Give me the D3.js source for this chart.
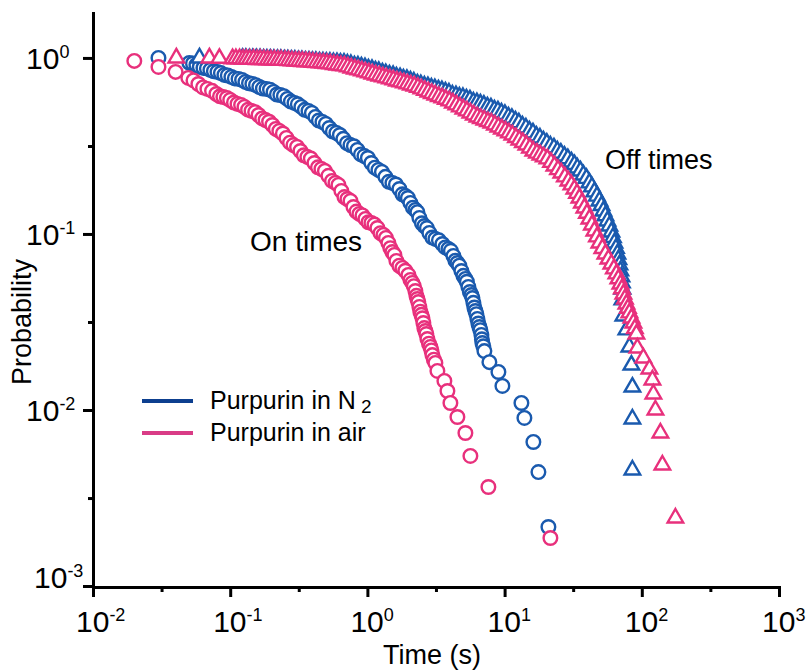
<!DOCTYPE html>
<html>
<head>
<meta charset="utf-8">
<script src="https://cdn.jsdelivr.net/npm/d3@7"></script>
<style>
  body { margin: 0; background: #fff; }
  text { font-family: Arial, "Liberation Sans", sans-serif; fill: #000; }
</style>
</head>
<body>
<div id="chart"></div>
<script>
// survival probabilities, [time (s), probability]
const onN2 = [
  [0.030, 1.0], [0.0504, 0.937], [0.0567, 0.912], [0.0638, 0.877], [0.0717, 0.855], [0.0807, 0.833],
  [0.0907, 0.801], [0.102, 0.780], [0.115, 0.760], [0.129, 0.731], [0.145, 0.712], [0.163, 0.684],
  [0.184, 0.667], [0.207, 0.641], [0.232, 0.616], [0.261, 0.585], [0.294, 0.555], [0.330, 0.527],
  [0.372, 0.500], [0.418, 0.462], [0.470, 0.433], [0.528, 0.400], [0.594, 0.375], [0.668, 0.347],
  [0.752, 0.320], [0.846, 0.300], [0.951, 0.277], [1.069, 0.253], [1.203, 0.231], [1.353, 0.211],
  [1.521, 0.195], [1.711, 0.180], [1.892, 0.1644], [2.058, 0.150], [2.238, 0.137], [2.393, 0.1233],
  [2.603, 0.111], [2.830, 0.1013], [3.130, 0.0937], [3.520, 0.0877], [3.894, 0.0822], [4.236, 0.0750],
  [4.529, 0.0684], [4.843, 0.0616], [5.179, 0.0555], [5.446, 0.0500], [5.728, 0.0450], [5.924, 0.0406],
  [6.126, 0.0365], [6.335, 0.0329], [6.551, 0.0296], [6.775, 0.0267], [6.889, 0.0240], [7.125, 0.0216],
  [7.747, 0.0187], [9.013, 0.01644], [9.638, 0.01369], [13.26, 0.01096], [13.94, 0.00901],
  [16.21, 0.00658], [17.64, 0.00444], [20.86, 0.002164]
];
const onN2Mid = [
  [0.0535, 0.93], [0.060, 0.89], [0.0676, 0.872], [0.076, 0.84], [0.0855, 0.82], [0.096, 0.795],
  [0.108, 0.765], [0.122, 0.75], [0.137, 0.718], [0.154, 0.70], [0.173, 0.67], [0.195, 0.66],
  [0.219, 0.62], [0.246, 0.606], [0.277, 0.565], [0.311, 0.545], [0.350, 0.507], [0.394, 0.487],
  [0.443, 0.441], [0.498, 0.422], [0.560, 0.382], [0.630, 0.365], [0.709, 0.328], [0.797, 0.315],
  [0.897, 0.283], [1.008, 0.270], [1.134, 0.238], [1.276, 0.225], [1.435, 0.198], [1.613, 0.191],
  [1.80, 0.168], [1.973, 0.160], [2.146, 0.141], [2.314, 0.133], [2.496, 0.115], [2.714, 0.108],
  [2.976, 0.0955], [3.32, 0.092], [3.70, 0.0838], [4.06, 0.0802], [4.38, 0.0705], [4.68, 0.0660],
  [5.01, 0.0578], [5.31, 0.0535], [5.58, 0.0468], [5.83, 0.0432], [6.02, 0.0382], [6.23, 0.0350],
  [6.44, 0.0310], [6.66, 0.0284], [6.83, 0.0252], [7.0, 0.0230]
];
const onAir = [
  [0.020, 0.962], [0.030, 0.889], [0.040, 0.833], [0.0495, 0.770], [0.0586, 0.711], [0.0682, 0.667],
  [0.0793, 0.624], [0.0892, 0.600], [0.100, 0.577], [0.113, 0.548], [0.127, 0.527], [0.143, 0.500],
  [0.161, 0.474], [0.181, 0.444], [0.203, 0.416], [0.228, 0.385], [0.257, 0.351], [0.289, 0.320],
  [0.325, 0.296], [0.365, 0.274], [0.411, 0.253], [0.462, 0.234], [0.520, 0.214], [0.585, 0.195],
  [0.646, 0.1755], [0.715, 0.158], [0.791, 0.1423], [0.874, 0.1299], [0.967, 0.1217], [1.069, 0.1155],
  [1.183, 0.1081], [1.308, 0.0987], [1.422, 0.0889], [1.521, 0.0790], [1.627, 0.0703], [1.799, 0.0641],
  [1.990, 0.0585], [2.128, 0.0527], [2.238, 0.0474], [2.314, 0.0427], [2.393, 0.0385], [2.475, 0.0347],
  [2.559, 0.0312], [2.647, 0.0281], [2.737, 0.0253], [2.878, 0.0228], [2.977, 0.0205], [3.130, 0.0185],
  [3.237, 0.01666], [3.640, 0.01462], [3.830, 0.01282], [4.027, 0.01096], [4.529, 0.00912],
  [5.179, 0.0074], [5.632, 0.00548], [7.618, 0.00365], [21.57, 0.001874]
];
const onAirMid = [
  [0.054, 0.745], [0.0634, 0.68], [0.0737, 0.650], [0.0842, 0.605], [0.0946, 0.592], [0.1065, 0.558],
  [0.120, 0.541], [0.135, 0.508], [0.152, 0.492], [0.171, 0.453], [0.192, 0.434], [0.215, 0.395],
  [0.242, 0.372], [0.273, 0.330], [0.307, 0.312], [0.344, 0.280], [0.387, 0.268], [0.436, 0.239],
  [0.490, 0.228], [0.552, 0.200], [0.615, 0.190], [0.680, 0.162], [0.753, 0.154], [0.832, 0.1340],
  [0.920, 0.1275], [1.018, 0.1165], [1.126, 0.1130], [1.245, 0.1010], [1.365, 0.0950], [1.47, 0.0830],
  [1.574, 0.0760], [1.71, 0.0660], [1.89, 0.0618], [2.06, 0.0548], [2.18, 0.0505], [2.276, 0.0445],
  [2.35, 0.0410], [2.43, 0.0362], [2.52, 0.0332], [2.60, 0.0292], [2.69, 0.0270], [2.81, 0.0238],
  [2.93, 0.0218], [3.05, 0.0193]
];
const offN2 = [
  [0.0597, 1.0], [0.123, 0.995], [0.138, 0.99], [0.155, 0.99], [0.175, 0.985], [0.196, 0.985],
  [0.221, 0.98], [0.248, 0.975], [0.279, 0.97], [0.314, 0.965], [0.353, 0.96], [0.397, 0.955],
  [0.447, 0.95], [0.502, 0.945], [0.565, 0.94], [0.636, 0.935], [0.715, 0.924], [0.804, 0.901],
  [0.904, 0.889], [1.017, 0.866], [1.144, 0.844], [1.286, 0.822], [1.447, 0.801], [1.627, 0.780],
  [1.829, 0.760], [2.058, 0.740], [2.314, 0.712], [2.603, 0.693], [2.928, 0.675], [3.293, 0.658],
  [3.703, 0.641], [4.165, 0.616], [4.684, 0.600], [5.268, 0.585], [5.924, 0.562], [6.662, 0.548],
  [7.492, 0.527], [8.427, 0.507], [9.478, 0.487], [10.66, 0.462], [11.99, 0.439], [13.48, 0.411],
  [15.16, 0.385], [17.05, 0.360], [19.18, 0.3376], [21.57, 0.316], [24.26, 0.296], [27.29, 0.277],
  [30.69, 0.2565], [33.93, 0.237], [37.53, 0.2164], [41.50, 0.195], [45.13, 0.1733], [49.09, 0.154],
  [52.49, 0.1351], [56.15, 0.1185], [60.02, 0.1026], [63.14, 0.0889], [66.41, 0.0770], [68.67, 0.0667],
  [71.02, 0.0570], [72.22, 0.0487], [72.22, 0.0422], [73.44, 0.0342], [77.23, 0.0285], [81.21, 0.0228],
  [84.0, 0.0180], [85.42, 0.0135], [85.42, 0.00889], [85.42, 0.00456]
];
const offN2Mid = [
  [0.130, 0.995], [0.146, 0.99], [0.165, 0.99], [0.185, 0.985], [0.208, 0.98], [0.234, 0.98],
  [0.263, 0.975], [0.296, 0.97], [0.333, 0.965], [0.375, 0.96], [0.421, 0.955], [0.474, 0.95],
  [0.533, 0.945], [0.600, 0.94], [0.675, 0.935], [0.758, 0.918], [0.853, 0.90], [0.96, 0.88],
  [1.08, 0.86], [1.21, 0.838], [1.36, 0.815], [1.54, 0.795], [1.73, 0.774], [1.94, 0.755],
  [2.18, 0.730], [2.45, 0.705], [2.76, 0.688], [3.10, 0.670], [3.49, 0.652], [3.93, 0.632],
  [4.42, 0.611], [4.97, 0.596], [5.59, 0.578], [6.28, 0.558], [7.06, 0.540], [7.95, 0.520],
  [8.94, 0.500], [10.05, 0.478], [11.3, 0.454], [12.7, 0.428], [14.3, 0.400], [16.1, 0.375],
  [18.1, 0.351], [20.3, 0.328], [22.9, 0.308], [25.7, 0.288], [28.9, 0.268], [32.3, 0.248],
  [35.7, 0.228], [39.5, 0.207], [43.3, 0.185], [47.1, 0.164], [50.8, 0.145], [54.3, 0.127],
  [58.0, 0.111], [61.6, 0.0955], [64.8, 0.0828], [67.5, 0.0715], [69.8, 0.0617], [71.6, 0.0528]
];
const offAir = [
  [0.0405, 1.0], [0.0705, 1.0], [0.0834, 0.995], [0.104, 0.99], [0.117, 0.99], [0.131, 0.985],
  [0.148, 0.985], [0.166, 0.98], [0.187, 0.975], [0.210, 0.975], [0.236, 0.97], [0.266, 0.965],
  [0.299, 0.96], [0.336, 0.955], [0.378, 0.95], [0.425, 0.94], [0.478, 0.935], [0.537, 0.925],
  [0.604, 0.912], [0.680, 0.901], [0.764, 0.877], [0.860, 0.855], [0.967, 0.833], [1.087, 0.811],
  [1.223, 0.790], [1.375, 0.770], [1.547, 0.750], [1.740, 0.731], [1.957, 0.712], [2.201, 0.693],
  [2.475, 0.667], [2.784, 0.641], [3.130, 0.616], [3.520, 0.593], [3.960, 0.570], [4.454, 0.541],
  [5.009, 0.513], [5.632, 0.487], [6.335, 0.462], [7.125, 0.444], [8.013, 0.427], [9.013, 0.4055],
  [10.14, 0.385], [11.40, 0.365], [12.82, 0.342], [14.42, 0.320], [16.21, 0.296], [18.24, 0.281],
  [20.51, 0.267], [23.07, 0.2434], [25.94, 0.222], [29.18, 0.200], [32.27, 0.180], [35.10, 0.160],
  [38.16, 0.1405], [41.50, 0.1217], [45.13, 0.104], [49.09, 0.0889], [54.29, 0.0770], [60.02, 0.0675],
  [65.30, 0.0593], [69.84, 0.0520], [73.44, 0.0456], [77.23, 0.0400], [81.21, 0.0356], [86.87, 0.0312],
  [91.33, 0.0270], [92.87, 0.0225], [102.7, 0.01974], [113.6, 0.0171], [119.5, 0.01481], [121.5, 0.01233],
  [125.7, 0.0100], [136.7, 0.0074], [141.3, 0.00487], [175.8, 0.002434]
];
const offAirMid = [
  [0.110, 0.99], [0.124, 0.985], [0.139, 0.985], [0.157, 0.98], [0.176, 0.978], [0.198, 0.975],
  [0.223, 0.972], [0.251, 0.968], [0.282, 0.962], [0.317, 0.958], [0.356, 0.952], [0.401, 0.945],
  [0.451, 0.938], [0.507, 0.93], [0.570, 0.918], [0.641, 0.906], [0.721, 0.889], [0.811, 0.866],
  [0.912, 0.844], [1.025, 0.822], [1.153, 0.80], [1.297, 0.78], [1.459, 0.76], [1.64, 0.74],
  [1.845, 0.722], [2.075, 0.702], [2.334, 0.68], [2.625, 0.654], [2.95, 0.628], [3.32, 0.604],
  [3.73, 0.582], [4.2, 0.555], [4.72, 0.527], [5.31, 0.50], [5.97, 0.474], [6.72, 0.453],
  [7.56, 0.435], [8.5, 0.416], [9.56, 0.395], [10.75, 0.375], [12.1, 0.353], [13.6, 0.331],
  [15.3, 0.308], [17.2, 0.288], [19.3, 0.274], [21.8, 0.255], [24.5, 0.232], [27.5, 0.211],
  [30.7, 0.19], [33.7, 0.17], [36.6, 0.15], [39.8, 0.131], [43.3, 0.1125], [47.1, 0.0962],
  [51.6, 0.0827], [57.1, 0.072], [62.6, 0.0633], [67.5, 0.0556], [71.6, 0.0488], [75.3, 0.0427],
  [79.2, 0.0378], [84.0, 0.0333], [89.0, 0.029]
];

const xMajor = [1e-2, 1e-1, 1, 10, 100, 1000];
const xMinor = [0.0316, 0.316, 3.16, 31.6, 316];
const yMajor = [1e-3, 1e-2, 1e-1, 1];
const yMinor = [0.00316, 0.0316, 0.316];
const legendLabels = ["Purpurin in N", "Purpurin in air"];

const blue = "#1a5aae", pink = "#e8307c";
const width = 807, height = 670;

const x = d3.scaleLog().domain([1e-2, 1e3]).range([93, 779]);
const y = d3.scaleLog().domain([1e-3, 1.8]).range([586, 13]);

const svg = d3.select("#chart").append("svg")
  .attr("width", width).attr("height", height);

const byTime = (a, b) => a[0] - b[0];

// markers: blue first, pink on top
const circles = (data, color) => {
  svg.append("g").selectAll("circle")
    .data(data)
    .join("circle")
    .attr("cx", (d) => x(d[0]))
    .attr("cy", (d) => y(d[1]))
    .attr("r", 6.8)
    .attr("fill", "#fff")
    .attr("stroke", color)
    .attr("stroke-width", 2.4);
};
const tri = d3.symbol().type(d3.symbolTriangle).size(105);
const triangles = (data, color) => {
  svg.append("g").selectAll("path")
    .data(data)
    .join("path")
    .attr("transform", (d) => `translate(${x(d[0])},${y(d[1])})`)
    .attr("d", tri)
    .attr("fill", "#fff")
    .attr("stroke", color)
    .attr("stroke-width", 2.4);
};
circles(onN2.concat(onN2Mid).sort(byTime), blue);
triangles(offN2.concat(offN2Mid).sort(byTime), blue);
circles(onAir.concat(onAirMid).sort(byTime), pink);
triangles(offAir.concat(offAirMid).sort(byTime), pink);

// axes
svg.append("g").attr("transform", "translate(0,587)")
  .call(d3.axisBottom(x).tickValues(xMajor).tickFormat("").tickSize(10).tickSizeOuter(0));
svg.append("g").attr("transform", "translate(0,587)")
  .call(d3.axisBottom(x).tickValues(xMinor).tickFormat("").tickSize(5).tickSizeOuter(0))
  .select(".domain").remove();
svg.append("g").attr("transform", "translate(93,0)")
  .call(d3.axisLeft(y).tickValues(yMajor).tickFormat("").tickSize(10).tickSizeOuter(0));
svg.append("g").attr("transform", "translate(93,0)")
  .call(d3.axisLeft(y).tickValues(yMinor).tickFormat("").tickSize(5).tickSizeOuter(0))
  .select(".domain").remove();
svg.selectAll(".domain").attr("stroke", "#000").attr("stroke-width", 3).attr("stroke-linecap", "square");
svg.selectAll(".tick line").attr("stroke", "#000").attr("stroke-width", 3);

const power = (sel, v) => {
  sel.append("tspan").text("10");
  sel.append("tspan").attr("font-size", 18).attr("dy", -11).text(Math.round(Math.log10(v)));
};
xMajor.forEach((v) => {
  svg.append("text").attr("x", x(v) - 17).attr("y", 632).attr("font-size", 30).call(power, v);
});
yMajor.forEach((v) => {
  const low = v === 1e-3;
  svg.append("text")
    .attr("x", low ? 34 : 26)
    .attr("y", y(v) + (low ? 2 : 11))
    .attr("font-size", 30)
    .call(power, v);
});

// axis titles
svg.append("text").attr("x", 432).attr("y", 664).attr("text-anchor", "middle")
  .attr("font-size", 27).text("Time (s)");
svg.append("text").attr("transform", "translate(31,322) rotate(-90)")
  .attr("text-anchor", "middle").attr("font-size", 27).text("Probability");

// annotations
svg.append("text").attr("x", 250).attr("y", 251).attr("font-size", 28).text("On times");
svg.append("text").attr("x", 605).attr("y", 169).attr("font-size", 27).text("Off times");

// legend
const legendColors = ["#0d3f8f", "#d93c86"];
legendLabels.forEach((lab, i) => {
  const ly = 401 + i * 32;
  svg.append("line").attr("x1", 142).attr("x2", 193).attr("y1", ly).attr("y2", ly)
    .attr("stroke", legendColors[i]).attr("stroke-width", 4);
  const t = svg.append("text").attr("x", 210).attr("y", ly + 8).attr("font-size", 25).text(lab);
  if (i === 0) t.append("tspan").attr("dx", 5).attr("dy", 4).attr("font-size", 19).text("2");
});
</script>
</body>
</html>
